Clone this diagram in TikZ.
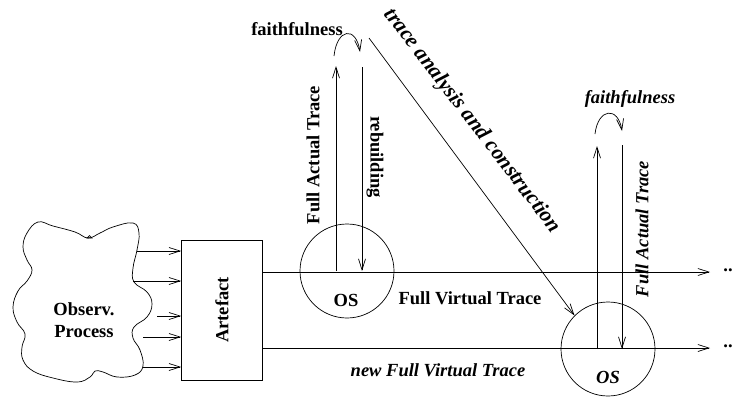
\documentclass[tikz,border=0pt]{standalone}
\usepackage{fontspec}
\setmainfont{Liberation Serif}
\usetikzlibrary{arrows.meta}

\begin{document}
\begin{tikzpicture}[x=1pt,y=-1pt,line width=0.7pt,
    >={Straight Barb[length=11pt,width=7pt]},
    txt/.style={font=\fontsize{18.5}{22}\selectfont\bfseries, inner sep=0pt},
    itxt/.style={txt, font=\fontsize{18.5}{22}\selectfont\bfseries\itshape},
    oscirc/.style={draw, circle, minimum size=94pt, inner sep=0pt}]
  \useasboundingbox (0,0) rectangle (735,399);

  % observation process
  \draw plot[smooth cycle, tension=0.7] coordinates {
    (27,233) (38,222) (53,226) (75,232) (88,238) (100,233) (113,227)
    (133,223) (139,233) (137,250) (133,268) (134,282) (147,292) (152,304)
    (147,317) (134,327) (133,338) (140,350) (143,366) (135,375) (117,377)
    (103,372) (95,371) (90,377) (77,382) (53,378) (33,371) (23,360)
    (22,347) (25,334) (17,322) (13,307) (18,291) (27,281) (32,270)
    (27,260) (23,247)};
  \draw (87,238) -- (92,238) -- (89.5,235.5) -- cycle;
  \node[txt, align=center] (proc) at (84,320) {Observ.\\Process};

  \node[draw, txt, minimum width=81pt, minimum height=140pt] (art) at (222,310)
    {\rotatebox{90}{Artefact}};
  \foreach \x/\y in {137/251, 133/281, 157/316, 143/337, 143/367}
    \draw[->] (\x,\y) -- (art.west |- 0,\y);

  % virtual traces
  \coordinate (vt) at (710,272);
  \coordinate (nvt) at (710,348);
  \draw[->] (art.east |- vt) -- (vt);
  \draw[->] (art.east |- nvt) -- (nvt);
  \node[txt] (dots) at (728,270) {..};
  \node[txt] (ndots) at (728,346) {..};

  \node[oscirc] (os) at (347,271) {};
  \node[txt] (oslbl) at (346,300) {OS};
  \node[oscirc] (nos) at (608,349) {};
  \node[itxt] (noslbl) at (608,377) {OS};
  \node[txt] (fvt) at (470,298) {Full Virtual Trace};
  \node[itxt] (nfvt) at (438,370) {new Full Virtual Trace};

  % first OS
  \coordinate (fa) at (336,66);
  \coordinate (rb) at (362,67);
  \draw[->] (fa |- os.center) -- (fa);
  \draw[->] (rb) -- (rb |- os.center);
  \coordinate (ff1) at (334,56);
  \coordinate (ff2) at (360,52);
  \draw[->] (ff1) .. controls (337,28) and (356,26) .. (ff2);
  \node[txt] (faith) at (297,29) {faithfulness};
  \node[txt, rotate=90] (fat) at (313,155) {Full Actual Trace};
  \node[txt, rotate=-90] (rebuild) at (375,157) {rebuilding};

  % analysis
  \coordinate (an) at (369,38);
  \draw[->] (an) -- (nos.135);
  \node[itxt, font=\fontsize{21.5}{24}\selectfont\bfseries\itshape, rotate=-52.5]
    (tac) at (472,121) {trace analysis and construction};

  % second OS
  \coordinate (nfa) at (597,146);
  \coordinate (nrb) at (622,145);
  \draw[->] (nfa |- nos.center) -- (nfa);
  \draw[->] (nrb) -- (nrb |- nos.center);
  \coordinate (nff1) at (595,134);
  \coordinate (nff2) at (622,131);
  \draw[->] (nff1) .. controls (598,108) and (618,106) .. (nff2);
  \node[itxt] (nfaith) at (630,99) {faithfulness};
  \node[itxt, rotate=90] (nfat) at (642,229) {Full Actual Trace};
\end{tikzpicture}
\end{document}
